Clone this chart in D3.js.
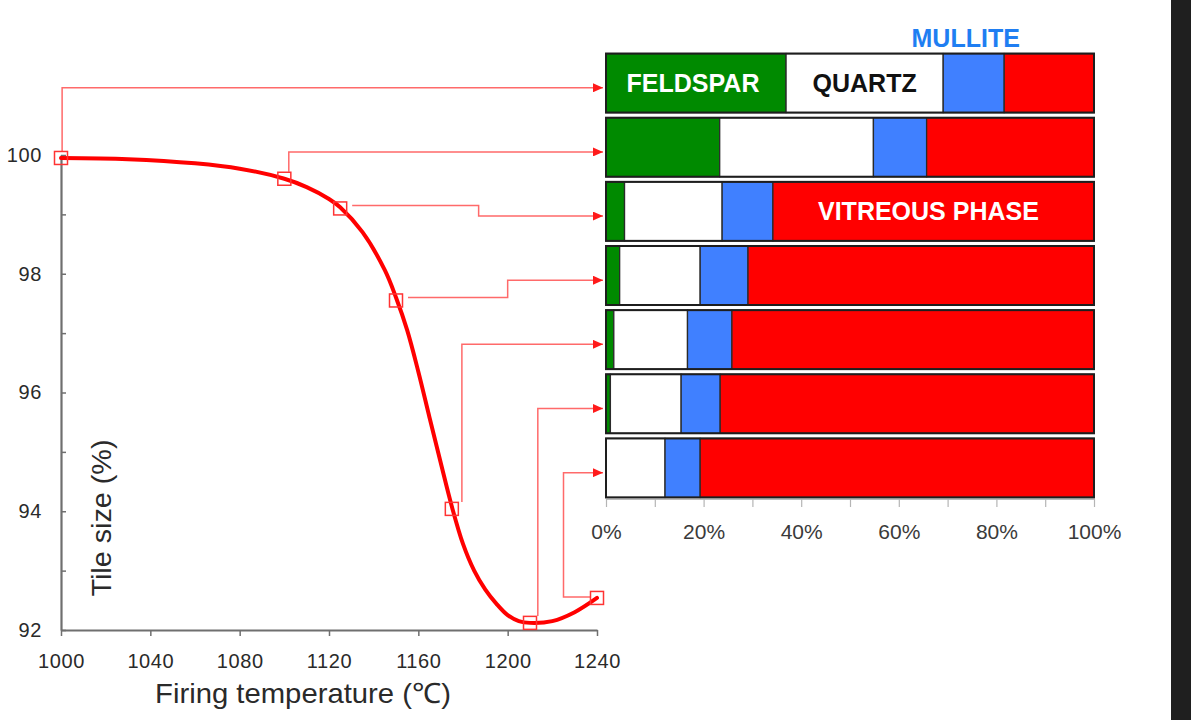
<!DOCTYPE html>
<html>
<head>
<meta charset="utf-8">
<script src="https://cdn.jsdelivr.net/npm/d3@7"></script>
<style>
  html, body { margin: 0; padding: 0; background: #fff; }
  svg { display: block; font-family: "Liberation Sans", Arial, Helvetica, sans-serif; }
</style>
</head>
<body>
<svg id="chart" width="1191" height="720"></svg>
<script>
// ---------- data ----------
// shrinkage curve
const curveTemps = [1000, 1030, 1060, 1080, 1100, 1110, 1120, 1125, 1135, 1145, 1150, 1155, 1160, 1165, 1170, 1175, 1180, 1185, 1190, 1195, 1200, 1205, 1210, 1220, 1230, 1240];
const curveSizes = [99.95, 99.93, 99.86, 99.77, 99.6, 99.46, 99.26, 99.12, 98.7, 98.06, 97.6, 97.05, 96.35, 95.58, 94.82, 94.08, 93.45, 93.0, 92.68, 92.44, 92.25, 92.15, 92.12, 92.15, 92.3, 92.54];

// sampled temperatures (square markers)
const markerTemps = [1000, 1100, 1125, 1150, 1175, 1210, 1240];
const markerSizes = [99.95, 99.6, 99.1, 97.55, 94.04, 92.12, 92.54];

// phase composition (%) for each sampled temperature
const phases   = ["FELDSPAR", "QUARTZ", "MULLITE", "VITREOUS PHASE"];
const feldspar = [36.9, 23.3, 3.8, 2.8, 1.6, 0.9, 0];
const quartz   = [32.2, 31.5, 20.0, 16.5, 15.1, 14.5, 12.1];
const mullite  = [12.5, 10.9, 10.4, 9.8, 9.1, 8.0, 7.2];
const vitreous = [18.4, 34.3, 65.8, 70.9, 74.2, 76.6, 80.7];

// axis ticks
const xTicks = [1000, 1040, 1080, 1120, 1160, 1200, 1240];
const yTicks = [92, 93, 94, 95, 96, 97, 98, 99, 100];
const pctTicks = [0, 10, 20, 30, 40, 50, 60, 70, 80, 90, 100];

// connector routing: elbow temperature and route style
const elbowTemps = [1000.5, 1102, 1187, 1200, 1179.5, 1213.5, 1225];
const routeKind  = ["up", "up", "right", "right", "up", "up", "left"];

// ---------- drawing ----------
const svg = d3.select("#chart");
const phaseColors = ["#008a00", "#ffffff", "#4080ff", "#ff0000"];

svg.append("rect").attr("x", 1171).attr("y", 0).attr("width", 20).attr("height", 720).attr("fill", "#1f1f1f");

const x = d3.scaleLinear().domain([1000, 1240]).range([61, 597]);
const y = d3.scaleLinear().domain([92, 100]).range([630, 155]);

const xp = d3.scaleLinear().domain([0, 100]).range([606, 1094]);
const band = d3.scaleBand().domain(d3.range(7)).range([51, 500]).paddingInner(0.08).paddingOuter(0.04);

// arrow marker
svg.append("defs").append("marker")
  .attr("id", "arr").attr("markerUnits", "userSpaceOnUse")
  .attr("markerWidth", 11).attr("markerHeight", 9)
  .attr("refX", 10).attr("refY", 4.5).attr("orient", "auto")
  .append("path").attr("d", "M0,0 L10,4.5 L0,9 Z").attr("fill", "#ff1a1a");

// ----- stacked bars -----
const rows = d3.range(7).map(i => ({ i, FELDSPAR: feldspar[i], QUARTZ: quartz[i], MULLITE: mullite[i], "VITREOUS PHASE": vitreous[i] }));
const stack = d3.stack().keys(phases)(rows);

const barG = svg.append("g");
stack.forEach((layer, k) => {
  barG.selectAll(null).data(layer).join("rect")
    .attr("x", d => xp(d[0]))
    .attr("y", d => band(d.data.i))
    .attr("width", d => Math.max(0, xp(d[1]) - xp(d[0])))
    .attr("height", band.bandwidth())
    .attr("fill", phaseColors[k])
    .attr("stroke", d => (d[1] - d[0]) > 0 ? "#2a2a2a" : "none")
    .attr("stroke-width", 1.3);
});
barG.selectAll(null).data(rows).join("rect")
  .attr("x", xp(0)).attr("y", d => band(d.i))
  .attr("width", xp(100) - xp(0)).attr("height", band.bandwidth())
  .attr("fill", "none").attr("stroke", "#1e1e1e").attr("stroke-width", 2);

// percent axis
const pAxis = svg.append("g").attr("transform", "translate(0,499)")
  .call(d3.axisBottom(xp).tickValues(pctTicks).tickSize(8).tickSizeOuter(0)
    .tickFormat(d => d % 20 === 0 ? d + "%" : ""));
pAxis.select(".domain").attr("stroke", "#bbbbbb").attr("stroke-width", 1);
pAxis.selectAll(".tick line").attr("stroke", "#b5b5b5").attr("stroke-width", 1.2);
pAxis.selectAll(".tick text").attr("y", 40).attr("dy", null)
  .attr("font-size", 21).attr("fill", "#3a3a3a")
  .attr("font-family", "'Liberation Sans', Arial, sans-serif");

// phase labels
const midOf = (k, i) => (xp(stack[k][i][0]) + xp(stack[k][i][1])) / 2;
const lab = svg.append("g").attr("font-size", 25).attr("font-weight", "bold").attr("text-anchor", "middle");
lab.append("text").attr("x", midOf(0, 0) - 3).attr("y", band(0) + band.bandwidth() / 2 + 9).attr("fill", "#ffffff").text(phases[0]);
lab.append("text").attr("x", midOf(1, 0)).attr("y", band(0) + band.bandwidth() / 2 + 9).attr("fill", "#111111").text(phases[1]);
lab.append("text").attr("x", midOf(2, 0) - 8).attr("y", band(0) - 7).attr("fill", "#1f7ef2").text(phases[2]);
lab.append("text").attr("x", midOf(3, 2) - 5).attr("y", band(2) + band.bandwidth() / 2 + 9).attr("fill", "#ffffff").text(phases[3]);

// ----- connectors -----
const conG = svg.append("g").attr("fill", "none").attr("stroke", "#ff6a6a").attr("stroke-width", 1.5);
markerTemps.forEach((t, i) => {
  const mx = x(t), my = y(markerSizes[i]);
  const ex = xp(0) - 3;
  const ay = band(i) + band.bandwidth() * 0.58;
  const ex2 = x(elbowTemps[i]);
  let p = d3.path();
  if (routeKind[i] === "up") {
    p.moveTo(ex2, my - 7); p.lineTo(ex2, ay); p.lineTo(ex, ay);
  } else if (routeKind[i] === "right") {
    p.moveTo(mx + 12, my - 3); p.lineTo(ex2, my - 3); p.lineTo(ex2, ay); p.lineTo(ex, ay);
  } else {
    p.moveTo(mx - 7, my - 1); p.lineTo(ex2, my - 1); p.lineTo(ex2, ay); p.lineTo(ex, ay);
  }
  conG.append("path").attr("d", p.toString()).attr("marker-end", "url(#arr)");
});

// ----- left axes -----
const xAxisG = svg.append("g").attr("transform", "translate(0,630)")
  .call(d3.axisBottom(x).tickValues(xTicks).tickSize(6).tickSizeOuter(0).tickFormat(d3.format("d")));
xAxisG.selectAll(".tick text").attr("y", 38).attr("dy", null);

const yAxisG = svg.append("g").attr("transform", "translate(61,0)")
  .call(d3.axisLeft(y).tickValues(yTicks).tickSizeInner(-5).tickSizeOuter(0).tickPadding(19)
    .tickFormat(d => d % 2 === 0 ? d : ""));

[xAxisG, yAxisG].forEach(g => {
  g.select(".domain").attr("stroke", "#6f6f6f").attr("stroke-width", 2.2);
  g.selectAll(".tick line").attr("stroke", "#6f6f6f").attr("stroke-width", 1.5);
  g.selectAll(".tick text").attr("font-size", 20).attr("fill", "#2a2a2a")
    .attr("letter-spacing", 0.6)
    .attr("font-family", "'Liberation Sans', Arial, sans-serif");
});

// axis titles
svg.append("text").attr("x", 303).attr("y", 703).attr("text-anchor", "middle")
  .attr("font-size", 28).attr("fill", "#2a2a2a")
  .attr("textLength", 296).attr("lengthAdjust", "spacingAndGlyphs")
  .text("Firing temperature (\u2103)");
svg.append("text").attr("transform", "translate(111,518) rotate(-90)").attr("text-anchor", "middle")
  .attr("font-size", 28).attr("fill", "#2a2a2a")
  .attr("textLength", 157).attr("lengthAdjust", "spacingAndGlyphs")
  .text("Tile size (%)");

// ----- curve -----
const pts = curveTemps.map((t, i) => [t, curveSizes[i]]);
svg.append("path").datum(pts)
  .attr("d", d3.line().x(d => x(d[0])).y(d => y(d[1])).curve(d3.curveCatmullRom.alpha(0.5)))
  .attr("fill", "none").attr("stroke", "#ff0000").attr("stroke-width", 4).attr("stroke-linecap", "round");

// ----- markers -----
svg.append("g").selectAll("rect").data(markerTemps).join("rect")
  .attr("x", (t) => x(t) - 6.5)
  .attr("y", (t, i) => y(markerSizes[i]) - 6.5)
  .attr("width", 13).attr("height", 13)
  .attr("fill", "none").attr("stroke", "#ff3333").attr("stroke-width", 1.5);
</script>
</body>
</html>
